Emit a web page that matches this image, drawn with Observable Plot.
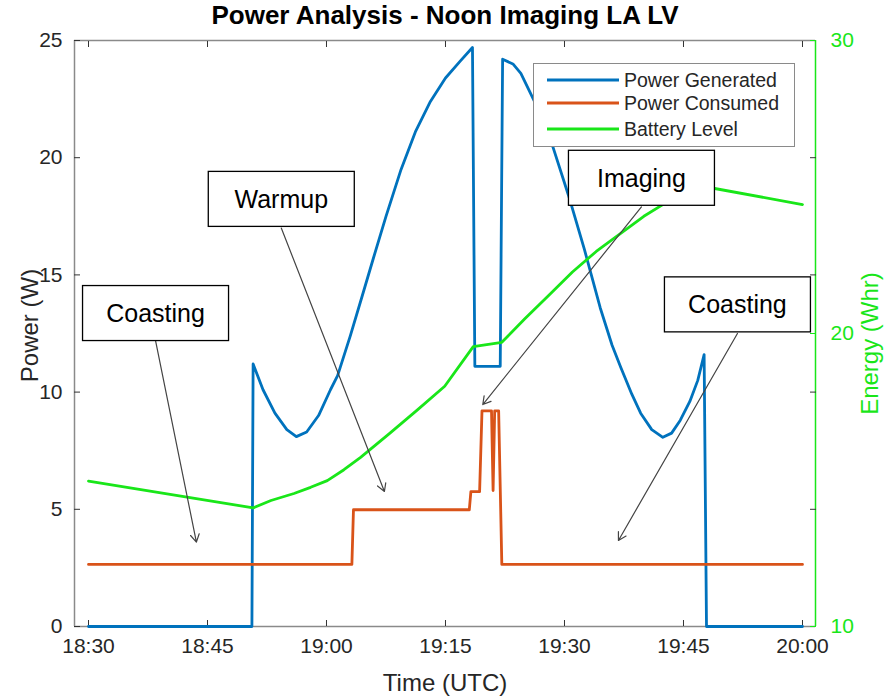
<!DOCTYPE html>
<html><head><meta charset="utf-8">
<script src="https://cdn.jsdelivr.net/npm/d3@7"></script>
<script src="https://cdn.jsdelivr.net/npm/@observablehq/plot@0.6"></script>
<style>
body{margin:0;background:#fff;font-family:"Liberation Sans",Arial,sans-serif;}
#chart{position:relative;width:894px;height:699px;}
.legend{position:absolute;left:533px;top:63px;width:262px;height:84px;box-sizing:border-box;border:1.5px solid #8a8a8a;background:#fff;font-size:19.5px;color:#262626;}
.legend .row{position:absolute;left:0;height:24px;line-height:24px;white-space:nowrap;}
.legend svg{position:absolute;left:12px;top:0;}
.legend span{position:absolute;left:90px;top:0;}
</style></head><body><div id="chart"></div>
<script>
// minutes after 18:30 UTC
const xTicks = [0, 15, 30, 45, 60, 75, 90];
const leftTicks = [0, 5, 10, 15, 20, 25];
const rightTicks = [10, 20, 30];

const genT = [0, 20.6, 20.75, 22, 23.5, 25, 26.2, 27.5, 29, 30.5, 31.4, 33, 34.5, 35.9, 37.5, 39.4, 41.2, 43.1, 45, 46.8, 48.4, 48.7, 51.9, 52.2, 53.5, 54.5, 56.5, 58.6, 60.5, 62.5, 64.5, 66, 67.1, 68.5, 69.6, 71, 72.4, 73.5, 74.6, 75.8, 76.8, 77.6, 77.9, 90];
const genP = [0, 0, 11.2, 10.1, 9.1, 8.4, 8.1, 8.3, 9.0, 10.1, 10.7, 12.4, 14.1, 15.7, 17.5, 19.5, 21.1, 22.4, 23.4, 24.1, 24.7, 11.1, 11.1, 24.2, 24.0, 23.6, 22.2, 20.4, 18.4, 16.1, 13.6, 12.0, 11.05, 9.9, 9.1, 8.4, 8.07, 8.25, 8.8, 9.6, 10.5, 11.6, 0, 0];

const useT = [0, 33.2, 33.4, 48.0, 48.2, 49.3, 49.6, 50.8, 51.0, 51.2, 51.7, 52.1, 90];
const useP = [2.65, 2.65, 4.98, 4.98, 5.75, 5.75, 9.2, 9.2, 5.8, 9.2, 9.2, 2.65, 2.65];

const batT = [0, 20.76, 23, 25.9, 28, 30.1, 32.2, 34.3, 38, 41.5, 44.9, 48.5, 52.1, 55, 58, 61, 64, 67, 70, 73, 75.5, 77.9, 90];
const batE = [14.96, 14.05, 14.3, 14.54, 14.75, 14.98, 15.35, 15.77, 16.6, 17.4, 18.2, 19.55, 19.7, 20.5, 21.3, 22.1, 22.8, 23.4, 24.0, 24.5, 24.8, 25.0, 24.4];

const annText = ["Coasting", "Warmup", "Imaging", "Coasting"];
const annX = [8.45, 24.3, 69.7, 81.8];
const annY = [13.33, 18.2, 19.1, 13.7];
const arrX1 = [8.45, 24.3, 69.7, 81.8];
const arrY1 = [12.2, 17.0, 17.9, 12.5];
const arrX2 = [13.6, 37.3, 49.7, 66.8];
const arrY2 = [3.6, 5.76, 9.47, 3.67];

const seriesNames = ["Power Generated", "Power Consumed", "Battery Level"];
const blue = "#0072BD", orange = "#D95319", green = "#19e619", grey = "#8a8a8a";

const xDomain = [-1.765, 91.64];
const eMin = 10, eMax = 30, pMax = 25;
const toLeft = e => (e - eMin) * pMax / (eMax - eMin);
const fmt = m => { const tot = 18 * 60 + 30 + m; return `${Math.floor(tot / 60)}:${String(tot % 60).padStart(2, "0")}`; };
const blank = () => "";

const gen = genT.map((t, i) => ({t, v: genP[i]}));
const use = useT.map((t, i) => ({t, v: useP[i]}));
const bat = batT.map((t, i) => ({t, v: toLeft(batE[i])}));
const ann = annText.map((s, i) => ({s, x: annX[i], y: annY[i], x1: arrX1[i], y1: arrY1[i], x2: arrX2[i], y2: arrY2[i]}));

const plot = Plot.plot({
  width: 894, height: 699,
  marginLeft: 74, marginRight: 79, marginTop: 40, marginBottom: 73,
  style: {fontFamily: "Liberation Sans, Arial, sans-serif", fontSize: "21px", color: "#262626", background: "white"},
  x: {domain: xDomain},
  y: {domain: [0, pMax]},
  marks: [
    Plot.ruleY([0, pMax], {stroke: grey, strokeWidth: 1.5}),
    Plot.ruleX([xDomain[0]], {stroke: grey, strokeWidth: 1.5}),
    Plot.ruleX([xDomain[1]], {stroke: green, strokeWidth: 1.5}),
    // labels
    Plot.axisX({ticks: xTicks, anchor: "bottom", tickSize: 0, tickPadding: 12, tickFormat: fmt, label: null, fontSize: 21}),
    Plot.axisY({ticks: leftTicks, anchor: "left", tickSize: 0, tickPadding: 12, label: null, fontSize: 21}),
    Plot.axisY({ticks: rightTicks.map(toLeft), anchor: "right", tickSize: 0, tickPadding: 15, tickFormat: d => String(Math.round(eMin + d * (eMax - eMin) / pMax)), label: null, fontSize: 21, fill: green}),
    // inward ticks
    Plot.axisX({ticks: xTicks, anchor: "bottom", tickSize: 6, dy: -6, tickFormat: blank, label: null, stroke: "#333"}),
    Plot.axisX({ticks: xTicks, anchor: "top", tickSize: 6, dy: 6, tickFormat: blank, label: null, stroke: "#333"}),
    Plot.axisY({ticks: leftTicks, anchor: "left", tickSize: 6, dx: 6, tickFormat: blank, label: null, stroke: "#333"}),
    Plot.axisY({ticks: leftTicks.slice(1, -1), anchor: "right", tickSize: 6, dx: -6, tickFormat: blank, label: null, stroke: "#333"}),
    Plot.axisY({ticks: rightTicks.map(toLeft), anchor: "right", tickSize: 6, dx: -6, tickFormat: blank, label: null, stroke: green}),
    Plot.line(gen, {x: "t", y: "v", stroke: blue, strokeWidth: 2.8}),
    Plot.line(use, {x: "t", y: "v", stroke: orange, strokeWidth: 2.8}),
    Plot.line(bat, {x: "t", y: "v", stroke: green, strokeWidth: 2.8}),
    Plot.arrow(ann, {x1: "x1", y1: "y1", x2: "x2", y2: "y2", stroke: "#444", strokeWidth: 1.2, headLength: 11}),
    Plot.text(ann, {x: "x", y: "y", text: "s", fontSize: 25, fill: "#000"}),
    Plot.text(["Power Analysis - Noon Imaging LA LV"], {text: d => d, frameAnchor: "top", dy: -25, lineAnchor: "middle", fontSize: 26, fontWeight: "bold", fill: "#000"}),
    Plot.text(["Time (UTC)"], {text: d => d, frameAnchor: "bottom", dy: 57, lineAnchor: "middle", fontSize: 24, fill: "#262626"}),
    Plot.text(["Power (W)"], {text: d => d, frameAnchor: "left", dx: -44, dy: -8, rotate: -90, textAnchor: "middle", fontSize: 24, fill: "#262626"}),
    Plot.text(["Energy (Whr)"], {text: d => d, frameAnchor: "right", dx: 55, dy: 10, rotate: -90, textAnchor: "middle", fontSize: 24, fill: green})
  ]
});

const chart = document.getElementById("chart");
chart.append(plot);

// white boxes behind annotation labels
const NS = "http://www.w3.org/2000/svg";
d3.select(plot).selectAll("text").filter(function() { return annText.includes(this.textContent); }).each(function() {
  const bb = this.getBBox();
  const cx = bb.x + bb.width / 2, cy = bb.y + bb.height / 2;
  const r = document.createElementNS(NS, "rect");
  r.setAttribute("x", cx - 73); r.setAttribute("y", cy - 27.5);
  r.setAttribute("width", 146); r.setAttribute("height", 55);
  r.setAttribute("fill", "white"); r.setAttribute("stroke", "#000"); r.setAttribute("stroke-width", 1.3);
  const tr = this.getAttribute("transform"); if (tr) r.setAttribute("transform", tr);
  this.parentNode.insertBefore(r, this);
});

// legend
const legend = document.createElement("div");
legend.className = "legend";
const cols = [blue, orange, green];
const tops = [4, 27, 53];
seriesNames.forEach((name, i) => {
  const row = document.createElement("div");
  row.className = "row"; row.style.top = tops[i] + "px"; row.style.width = "260px";
  row.innerHTML = `<svg width="74" height="24"><line x1="1" x2="73" y1="12" y2="12" stroke="${cols[i]}" stroke-width="3"/></svg><span>${name}</span>`;
  legend.append(row);
});
chart.append(legend);
</script></body></html>
